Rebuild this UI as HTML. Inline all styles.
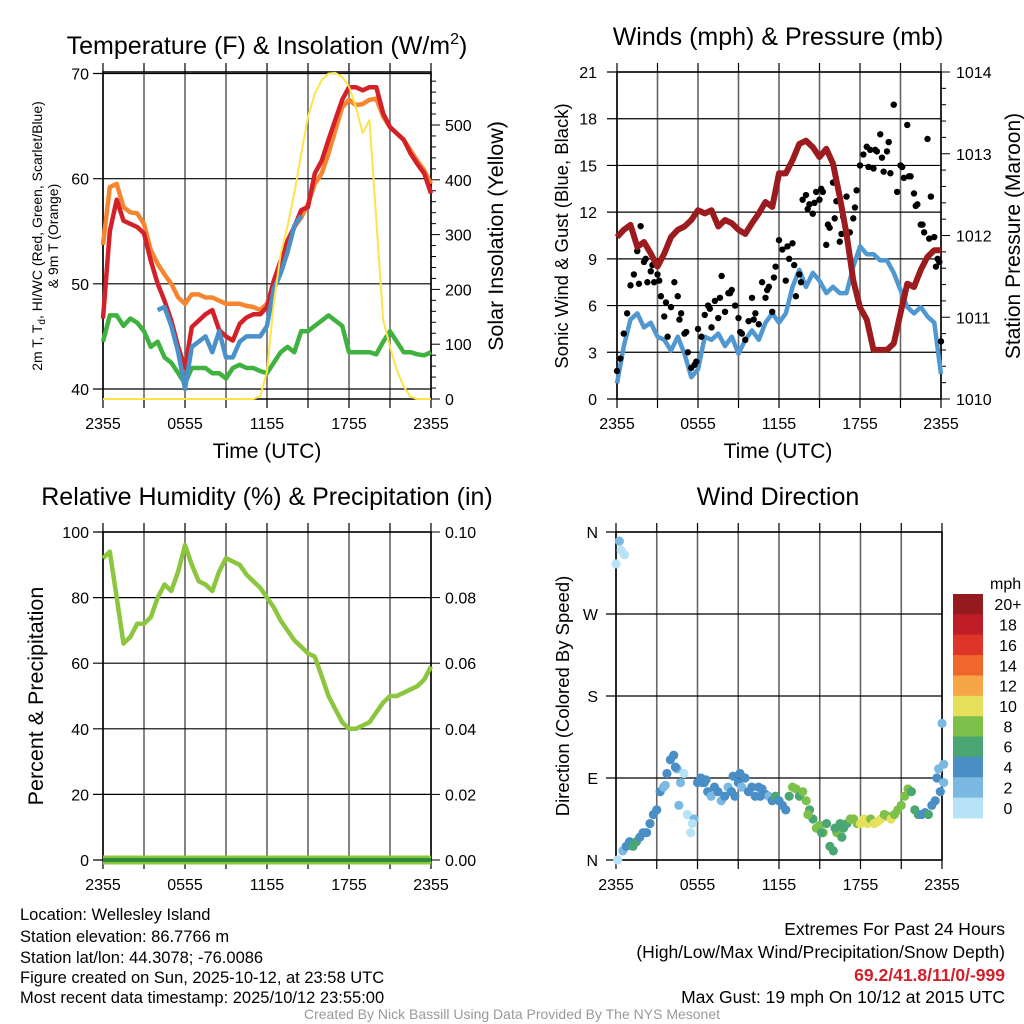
<!DOCTYPE html>
<html><head><meta charset="utf-8"><style>
html,body{margin:0;padding:0;background:#fff;}
svg{display:block;font-family:"Liberation Sans",sans-serif;}
</style></head><body>
<svg id="s" width="1024" height="1024" viewBox="0 0 1024 1024" xmlns="http://www.w3.org/2000/svg">
<g id="texts">
<text x="267" y="54" font-size="25" text-anchor="middle">Temperature (F) &amp; Insolation (W/m<tspan font-size="16" dy="-10">2</tspan><tspan dy="10">)</tspan></text>
<text x="778" y="45" font-size="25" text-anchor="middle">Winds (mph) &amp; Pressure (mb)</text>
<text x="267" y="505" font-size="25" text-anchor="middle">Relative Humidity (%) &amp; Precipitation (in)</text>
<text x="778" y="505" font-size="25" text-anchor="middle">Wind Direction</text>
<text x="267" y="458" font-size="21" text-anchor="middle">Time (UTC)</text>
<text x="778" y="458" font-size="21" text-anchor="middle">Time (UTC)</text>
<text transform="translate(42,236) rotate(-90)" font-size="14" text-anchor="middle">2m T, T<tspan font-size="10" dy="3">d</tspan><tspan dy="-3">, HI/WC (Red, Green, Scarlet/Blue)</tspan></text>
<text transform="translate(58,236) rotate(-90)" font-size="14" text-anchor="middle">&amp; 9m T (Orange)</text>
<text transform="translate(503,236) rotate(-90)" font-size="21.5" text-anchor="middle">Solar Insolation (Yellow)</text>
<text transform="translate(568,236) rotate(-90)" font-size="18.5" text-anchor="middle">Sonic Wind &amp; Gust (Blue, Black)</text>
<text transform="translate(1020,236) rotate(-90)" font-size="21" text-anchor="middle">Station Pressure (Maroon)</text>
<text transform="translate(43,696) rotate(-90)" font-size="21.5" text-anchor="middle">Percent &amp; Precipitation</text>
<text transform="translate(569,696) rotate(-90)" font-size="18.5" text-anchor="middle">Direction (Colored By Speed)</text>
<g font-size="16.5">
<text x="20" y="920">Location: Wellesley Island</text>
<text x="20" y="942">Station elevation: 86.7766 m</text>
<text x="20" y="963">Station lat/lon: 44.3078; -76.0086</text>
<text x="20" y="983">Figure created on Sun, 2025-10-12, at 23:58 UTC</text>
<text x="20" y="1003">Most recent data timestamp: 2025/10/12 23:55:00</text>
</g>
<g font-size="17.5" text-anchor="end">
<text x="1005" y="935">Extremes For Past 24 Hours</text>
<text x="1005" y="958">(High/Low/Max Wind/Precipitation/Snow Depth)</text>
<text x="1005" y="981" fill="#d0202a" font-weight="bold">69.2/41.8/11/0/-999</text>
<text x="1005" y="1003">Max Gust: 19 mph On 10/12 at 2015 UTC</text>
</g>
<text x="512" y="1019" font-size="14" fill="#999" text-anchor="middle">Created By Nick Bassill Using Data Provided By The NYS Mesonet</text>
</g>
</svg>
<script>
// ---- data (every 30 min, 2355 -> 2355) ----
var tempRed=[46.7,55,58,56,55.7,55.4,54.8,52.2,50,48.4,46.5,44,42,45.9,46.5,47.1,47.5,45.6,45,44.6,46.2,46.8,47.1,47.1,47.8,50.3,52.2,54.1,55.4,57,57.3,60.5,61.7,63.7,65.6,67.5,68.7,68.7,68.4,68.7,68.7,66.2,64.9,64.3,63.7,62.4,61.4,60.5,58.6];
var temp9m=[53.7,59.2,59.5,57.3,56.8,56.7,55.7,53.2,51.9,50.9,50,48.7,48.1,49,49,48.7,48.7,48.4,48.1,48.1,48.1,47.9,47.8,47.5,48.1,50,51.9,53.5,55.4,56.3,57.6,59.5,60.5,62.4,64.6,66.8,67.5,67,67.1,67.5,67.6,65.9,64.9,64.3,63.7,62.7,61.7,60.8,59.5];
var windChill=[null,null,null,null,null,null,null,null,47.5,47.8,46,43.5,40,44,44.5,45,43.5,45.5,43,43,44.5,45,45,45,46,49.5,51,53,55.5,56.5,null,null,null,null,null,null,null,null,null,null,null,null,null,null,null,null,null,null,null];
var dewpoint=[44.5,47,47,46,46.7,46.3,45.5,44,44.5,43,42.5,41.5,40.5,42,42,42,41.5,41.5,41,42,42.3,42,42,41.7,41.5,42.5,43.5,44,43.5,45.5,45.5,46,46.5,47,46.5,46,43.5,43.5,43.5,43.5,43.3,44.5,45.5,44.5,43.5,43.5,43.3,43.2,43.5];
var insolation=[0,0,0,0,0,0,0,0,0,0,0,0,0,0,0,0,0,0,0,0,0,0,0,5,50,175,265,315,375,447,515,557,582,594,595,588,570,533,485,509,327,144,95,53,23,4,0,0,0];
var pressure=[1011.98,1012.07,1012.13,1011.86,1011.92,1011.78,1011.62,1011.78,1011.98,1012.07,1012.11,1012.19,1012.31,1012.27,1012.31,1012.11,1012.19,1012.15,1012.07,1012.02,1012.15,1012.27,1012.41,1012.35,1012.76,1012.76,1012.92,1013.12,1013.16,1013.08,1012.96,1013.06,1012.88,1012.47,1012.02,1011.45,1011.12,1010.97,1010.6,1010.6,1010.6,1010.68,1011.05,1011.41,1011.37,1011.58,1011.74,1011.82,1011.82];
var windSpeed=[1.0,3.4,5.1,5.5,4.6,4.9,4.0,3.8,3.1,4.0,2.9,1.4,1.9,4.0,3.8,4.2,3.4,4.0,2.9,3.8,4.4,3.8,4.9,5.5,4.9,5.5,7.2,8.3,7.2,8.1,7.6,6.8,7.2,6.8,6.8,8.5,9.8,9.3,9.3,8.9,8.9,8.1,7.0,5.9,5.5,5.9,5.3,4.9,1.6];
var rh=[92,94,80,66,68,72,72,74,80,84,82,88,96,90,85,84,82,88,92,91,90,87,85,83,80,77,73,70,67,65,63,62,56,50,46,42,40,40,41,42,45,48,50,50,51,52,53,55,59];
var precip=[0,0,0,0,0,0,0,0,0,0,0,0,0,0,0,0,0,0,0,0,0,0,0,0,0,0,0,0,0,0,0,0,0,0,0,0,0,0,0,0,0,0,0,0,0,0,0,0,0];
// ---- 15-min data ----
var gust=[1.8,2.6,4.2,5.5,7.3,8.0,9.5,11.1,8.8,7.5,8.2,7.5,8.0,6.6,5.3,4.0,5.9,7.5,6.6,5.5,4.2,3.0,2.0,2.2,4.5,4.0,5.4,6.0,4.6,6.3,5.2,7.9,5.6,6.8,7.0,6.0,5.2,4.2,3.8,5.0,6.5,5.5,4.8,7.5,6.5,7.2,5.6,8.5,10.2,9.6,7.6,9.0,10.0,6.6,8.0,12.8,13.1,12.5,11.9,13.3,12.8,13.3,9.9,11.0,13.9,12.7,10.1,11.7,13.0,10.7,11.6,13.4,15.0,15.7,16.2,16.0,14.8,15.9,17.0,14.6,15.9,14.5,18.9,13.3,15.0,14.2,17.6,14.3,13.2,12.5,11.2,10.7,16.7,13.0,10.4,9.0,3.7];
var gustExtra=[7.4,9.0,8.6,7.6,6.2,5.1,4.3,2.4,5.8,6.5,6.8,4.3,5.1,7.0,7.8,9.8,8.6,7.5,12.2,12.6,13.5,11.2,11.6,10.6,12.3,14.9,16.0,15.5,16.5,14.9,14.3,12.4,11.2,10.3,8.5,8.8];
var gustExtraT=[6,8,10,12,14,18,20,23,27,30,33,36,40,44,46,50,52,54,56,58,60,62,64,66,70,74,76,78,80,84,86,88,90,92,94,95];
var dirDeg=[325,350,10,15,20,15,20,25,30,30,40,50,55,75,80,95,110,115,100,85,95,50,30,45,85,90,85,75,70,80,75,65,70,80,75,70,85,80,90,75,80,70,80,78,72,70,65,70,65,60,55,70,80,78,70,75,65,55,45,35,38,30,40,15,10,30,40,35,40,45,45,40,40,45,40,45,40,42,45,50,48,45,50,55,60,70,78,75,55,50,50,52,50,60,65,100,150];
var dirSpeed=[1,2.5,3,4.5,4.5,7,7,4.5,4.5,4.5,4.5,4.5,4.5,4.5,2.5,4.5,4.5,4.5,2.5,2.5,1,1,1,2.5,4.5,4.5,4.5,4.5,2.5,4.5,4.5,2.5,4.5,2.5,4.5,4.5,4.5,2.5,4.5,4.5,4.5,4.5,4.5,4.5,4.5,2.5,4.5,7,4.5,4.5,4.5,7,8.5,8.5,7,8.5,8.5,7,7,8.5,8.5,8.5,7,7,7,8.5,7,7,7,8.5,8.5,8.5,10.5,10.5,10.5,8.5,10.5,10.5,10.5,8.5,8.5,10.5,8.5,8.5,8.5,8.5,8.5,7,7,7,4.5,4.5,7,4.5,4.5,3,3];
var dirExtraDeg=[0,340,335,82,102,60,40,85,88,92,95,70,30,50,35,25,90,75,105,85];
var dirExtraT=[0,1,2,14,17,18,22,25,26,34,36,42,60,56,64,66,94,95,96,96];
var dirExtraSpd=[1,1,1,2.5,4.5,2.5,1,4.5,4.5,4.5,4.5,4.5,7,8.5,7,7,4.5,4.5,2.5,3];
var cbLabels=["20+","18","16","14","12","10","8","6","4","2","0"];
var cbColors=["#951a1d","#bf1e28","#dd3629","#ef672d","#f6a647","#e7e05b","#7dc14a","#4aa672","#4a8ec6","#7bb9e2","#b8e2f6"];
var tempTicks=[40,50,60,70];
var insTicks=[0,100,200,300,400,500];
var windTicks=[0,3,6,9,12,15,18,21];
var presTicks=[1010,1011,1012,1013,1014];
var rhTicks=[0,20,40,60,80,100];
var prTicks=["0.00","0.02","0.04","0.06","0.08","0.10"];
var dirTicks=["N","E","S","W","N"];
var timeTicks=["2355","0555","1155","1755","2355"];

var NS="http://www.w3.org/2000/svg";
var svg=document.getElementById('s');
var TF=16;
function mk(tag,at,parent){var e=document.createElementNS(NS,tag);for(var k in at)e.setAttribute(k,at[k]);(parent||svg).appendChild(e);return e;}
function lin(d0,d1,r0,r1){return function(v){return r0+(v-d0)*(r1-r0)/(d1-d0);};}
function pathOf(arr,fx,fy){var s="",pen=false;for(var i=0;i<arr.length;i++){if(arr[i]===null){pen=false;continue;}s+=(pen?"L":"M")+fx(i).toFixed(1)+" "+fy(arr[i]).toFixed(1);pen=true;}return s;}
function spdColor(v){var idx=Math.min(10,Math.floor(v/2));return cbColors[10-idx];}

function frame(x0,x1,y0,y1,name){
  var g=mk('g',{});
  
  
  for(var h=0;h<=8;h++){var x=x0+(x1-x0)*h/8;var l=mk('line',{x1:x,x2:x,y1:y0,y2:y1,stroke:'#666','stroke-width':1.6},g);
    
    
    mk('line',{x1:x,x2:x,y1:y0-9,y2:y0,stroke:'#000','stroke-width':1.2},g);
    mk('line',{x1:x,x2:x,y1:y1,y2:y1+9,stroke:'#000','stroke-width':1.2},g);}
  mk('rect',{x:x0,y:y0,width:x1-x0,height:y1-y0,fill:'none',stroke:'#000','stroke-width':1.5},g);
  for(var i=0;i<timeTicks.length;i++){var tx=mk('text',{x:x0+(x1-x0)*i/4,y:y1+30,'font-size':TF,'text-anchor':'middle'},g);tx.textContent=timeTicks[i];
    
    }
  return g;
}
function hgrid(g,x0,x1,y,label,lx,anchor){
  var l=mk('line',{x1:x0-10,x2:x1,y1:y,y2:y,stroke:'#000','stroke-width':1.2},g);
  
  
  var t=mk('text',{x:lx,y:y+6,'font-size':TF,'text-anchor':anchor},g);t.textContent=label;
  
  
}
function rtick(g,x1,y,label,lx,major){
  mk('line',{x1:x1,x2:x1+(major?9:5),y1:y,y2:y,stroke:'#000','stroke-width':1},g);
  if(label!==null){var t=mk('text',{x:lx,y:y+6,'font-size':TF},g);t.textContent=label;
  
  }
}

// ===== Panel 1 =====
(function(){
var X0=103,X1=431,Y0=72,Y1=399;
var fx=lin(0,48,X0,X1);
var fy=lin(40,70,389,73.5);
var fi=lin(0,500,399,125);
var g=frame(X0,X1,Y0,Y1,'temperature-panel');
for(var i=0;i<tempTicks.length;i++)hgrid(g,X0,X1,fy(tempTicks[i]),String(tempTicks[i]),89,'end');
for(var v=0;v<=590;v+=20)rtick(g,X1,fi(v),(v%100==0&&v<=500)?String(v):null,445,v%100==0);
var p;
p=mk('path',{d:pathOf(dewpoint,fx,fy),fill:'none',stroke:'#3fb23f','stroke-width':4.5,'stroke-linejoin':'round'});


p=mk('path',{d:pathOf(temp9m,fx,fy),fill:'none',stroke:'#f5852f','stroke-width':4.5,'stroke-linejoin':'round'});


p=mk('path',{d:pathOf(tempRed,fx,fy),fill:'none',stroke:'#d42029','stroke-width':4.5,'stroke-linejoin':'round'});


p=mk('path',{d:pathOf(windChill,fx,fy),fill:'none',stroke:'#4a90c9','stroke-width':4.5,'stroke-linejoin':'round'});


p=mk('path',{d:pathOf(insolation,fx,fi),fill:'none',stroke:'#fde44a','stroke-width':2,'stroke-linejoin':'round'});


})();

// ===== Panel 2 =====
(function(){
var X0=617,X1=941,Y0=72,Y1=399;
var fx=lin(0,48,X0,X1), fx15=lin(0,96,X0,X1);
var fy=lin(0,21,399,72);
var fp=lin(1010,1014,399,72);
var g=frame(X0,X1,Y0,Y1,'winds-panel');
for(var i=0;i<windTicks.length;i++)hgrid(g,X0,X1,fy(windTicks[i]),String(windTicks[i]),597,'end');
for(var v=1010;v<=1014.001;v+=0.2){var m=Math.abs(v-Math.round(v))<0.01;rtick(g,X1,fp(v),m?String(Math.round(v)):null,956,m);}
var p=mk('path',{d:pathOf(windSpeed,fx,fy),fill:'none',stroke:'#4f98d2','stroke-width':4.5,'stroke-linejoin':'round'});


for(var k=0;k<gust.length;k++){var c=mk('circle',{cx:fx15(k),cy:fy(gust[k]),r:3.2,fill:'#000'});

}
for(var k=0;k<gustExtra.length;k++){var c=mk('circle',{cx:fx15(gustExtraT[k])+1.7,cy:fy(gustExtra[k]),r:3.2,fill:'#000'});

}
p=mk('path',{d:pathOf(pressure,fx,fp),fill:'none',stroke:'#9b1b1e','stroke-width':6,'stroke-linejoin':'round'});


})();

// ===== Panel 3 =====
(function(){
var X0=103,X1=431,Y0=532,Y1=860;
var fx=lin(0,48,X0,X1);
var fy=lin(0,100,860,532);
var fpr=lin(0,0.1,860,532);
var g=frame(X0,X1,Y0,Y1,'humidity-panel');
for(var i=0;i<rhTicks.length;i++)hgrid(g,X0,X1,fy(rhTicks[i]),String(rhTicks[i]),89,'end');
for(var i=0;i<prTicks.length;i++)rtick(g,X1,fy(rhTicks[i]),prTicks[i],445,true);
var p=mk('path',{d:pathOf(rh,fx,fy),fill:'none',stroke:'#8cc63f','stroke-width':4.5,'stroke-linejoin':'round'});


p=mk('path',{d:pathOf(precip,fx,fpr),fill:'none',stroke:'#8cc63f','stroke-width':9});


p=mk('path',{d:pathOf(precip,fx,fpr),fill:'none',stroke:'#2e8b3a','stroke-width':4});


})();

// ===== Panel 4 =====
(function(){
var X0=616,X1=942,Y0=532,Y1=860;
var fx15=lin(0,96,X0,X1);
var fy=lin(0,360,860,532);
var g=frame(X0,X1,Y0,Y1,'wind-direction-panel');
for(var i=0;i<dirTicks.length;i++)hgrid(g,X0,X1,fy(i*90),dirTicks[i],598,'end');
function dot(t,d,s){var c=mk('circle',{cx:fx15(t),cy:fy(d),r:4.6,fill:spdColor(s)});

}
for(var k=0;k<dirDeg.length;k++)dot(k,dirDeg[k],dirSpeed[k]);
for(var k=0;k<dirExtraDeg.length;k++)dot(dirExtraT[k]+0.5,dirExtraDeg[k],dirExtraSpd[k]);
var cb=mk('g',{});


var t=mk('text',{x:990,y:589,'font-size':TF},cb);t.textContent='mph';
var bh=(818-594)/cbColors.length;
for(var i=0;i<cbColors.length;i++){
 var r=mk('rect',{x:953,y:594+i*bh,width:30,height:bh+0.5,fill:cbColors[i]},cb);
 
 
 var lt=mk('text',{x:1008,y:594+i*bh+bh/2+6,'font-size':TF,'text-anchor':'middle'},cb);lt.textContent=cbLabels[i];
 
 
}
})();
</script>
</body></html>
